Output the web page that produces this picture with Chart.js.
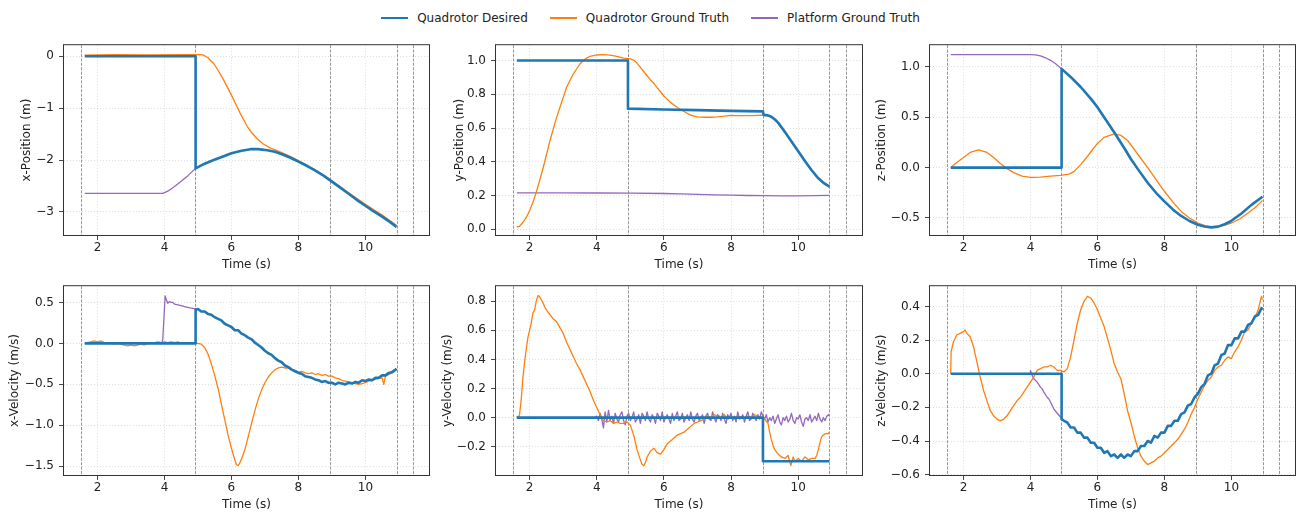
<!DOCTYPE html>
<html>
<head>
<meta charset="utf-8">
<script src="https://cdn.jsdelivr.net/npm/chart.js@4.4.1/dist/chart.umd.min.js"></script>
<style>
  body { margin: 0; background: #fff; width: 1301px; height: 518px; overflow: hidden; position: relative; font-family: 'DejaVu Sans', sans-serif; }
  canvas { position: absolute; }
  #legend { position: absolute; top: 11px; left: 0; width: 1301px; display: flex; justify-content: center; font-size: 12px; line-height: 14px; color: #222; }
  .item { display: flex; align-items: center; margin: 0 11px; }
  .swatch { width: 27px; margin-right: 9px; }
</style>
</head>
<body>
<div id="legend"></div>
<script>
// series names / colours
const seriesNames = ['Quadrotor Desired', 'Quadrotor Ground Truth', 'Platform Ground Truth'];
const seriesColors = ['#1f77b4', '#ff7f0e', '#9467bd'];

// phase boundaries (dashed vertical lines), seconds
const phaseTimes = [1.5, 4.92, 8.95, 10.93, 11.43];

// tick labels
const timeTicks = [2, 4, 6, 8, 10];
const xPosTicks = [-3, -2, -1, 0];
const yPosTicks = [0, 0.2, 0.4, 0.6, 0.8, 1.0];
const zPosTicks = [-0.5, 0, 0.5, 1.0];
const xVelTicks = [-1.5, -1.0, -0.5, 0, 0.5];
const yVelTicks = [-0.2, 0, 0.2, 0.4, 0.6, 0.8];
const zVelTicks = [-0.6, -0.4, -0.2, 0, 0.2, 0.4];

// ---- x position [t, value]
const xPosDesired = [[1.62,0],[4.93,0],[4.93,-2.16],[5.2,-2.07],[5.47,-2.0],[5.75,-1.93],[6.0,-1.87],[6.3,-1.82],[6.57,-1.79],[6.8,-1.79],[7.07,-1.81],[7.3,-1.84],[7.47,-1.88],[7.75,-1.95],[8.0,-2.03],[8.25,-2.11],[8.47,-2.19],[8.75,-2.3],[8.97,-2.4],[9.25,-2.53],[9.5,-2.65],[9.75,-2.77],[10.0,-2.88],[10.25,-2.99],[10.5,-3.09],[10.75,-3.2],[10.93,-3.29]];
const xPosTruth = [[1.62,0.02],[2.5,0.03],[3.5,0.025],[4.5,0.03],[5.0,0.03],[5.15,0.025],[5.3,-0.03],[5.47,-0.14],[5.6,-0.27],[5.77,-0.46],[6.0,-0.75],[6.15,-0.95],[6.27,-1.11],[6.47,-1.35],[6.6,-1.47],[6.77,-1.59],[6.95,-1.69],[7.17,-1.77],[7.47,-1.845],[7.75,-1.93],[8.0,-2.01],[8.5,-2.19],[9.0,-2.4],[9.5,-2.63],[10.0,-2.85],[10.5,-3.06],[10.93,-3.255]];
const xPosPlatform = [[1.62,-2.64],[3.95,-2.64],[4.1,-2.6],[4.3,-2.51],[4.5,-2.41],[4.7,-2.3],[4.93,-2.16]];

// ---- y position
const yPosDesired = [[1.62,1.0],[4.93,1.0],[4.93,0.715],[6.0,0.71],[7.0,0.706],[8.0,0.702],[8.95,0.699],[8.97,0.678],[9.1,0.675],[9.2,0.667],[9.3,0.652],[9.4,0.632],[9.6,0.578],[9.8,0.52],[10.0,0.462],[10.2,0.405],[10.4,0.35],[10.6,0.302],[10.75,0.275],[10.93,0.253]];
const yPosTruth = [[1.62,0.015],[1.7,0.017],[1.8,0.04],[1.9,0.07],[2.0,0.11],[2.1,0.16],[2.2,0.22],[2.3,0.29],[2.4,0.36],[2.5,0.44],[2.6,0.52],[2.7,0.59],[2.8,0.66],[2.9,0.72],[3.0,0.78],[3.1,0.84],[3.2,0.88],[3.3,0.92],[3.4,0.95],[3.5,0.98],[3.6,1.0],[3.7,1.015],[3.8,1.025],[4.0,1.033],[4.2,1.035],[4.4,1.032],[4.6,1.025],[4.8,1.015],[5.0,1.01],[5.1,1.003],[5.2,0.985],[5.3,0.96],[5.4,0.935],[5.5,0.91],[5.6,0.885],[5.7,0.865],[5.8,0.84],[5.9,0.815],[6.0,0.79],[6.1,0.77],[6.2,0.752],[6.3,0.737],[6.4,0.722],[6.5,0.71],[6.6,0.698],[6.7,0.687],[6.8,0.677],[6.9,0.67],[7.0,0.666],[7.2,0.664],[7.4,0.664],[7.6,0.666],[7.8,0.67],[8.0,0.675],[8.2,0.674],[8.4,0.673],[8.6,0.674],[8.8,0.675],[8.95,0.676],[9.1,0.673],[9.2,0.665],[9.4,0.631],[9.6,0.577],[9.8,0.52],[10.0,0.463],[10.2,0.406],[10.4,0.351],[10.6,0.303],[10.93,0.254]];
const yPosPlatform = [[1.62,0.216],[3.0,0.216],[4.0,0.215],[5.0,0.214],[6.0,0.212],[6.5,0.21],[7.0,0.207],[7.5,0.204],[8.0,0.202],[8.5,0.2],[9.0,0.199],[9.5,0.198],[10.0,0.198],[10.5,0.199],[10.93,0.201]];

// ---- z position
const zPosDesired = [[1.62,0],[4.93,0],[4.93,0.98],[5.2,0.9],[5.5,0.8],[5.8,0.685],[6.0,0.6],[6.2,0.5],[6.5,0.35],[6.8,0.195],[7.0,0.085],[7.25,-0.035],[7.5,-0.15],[7.75,-0.25],[8.0,-0.335],[8.25,-0.415],[8.5,-0.48],[8.75,-0.53],[9.0,-0.567],[9.2,-0.585],[9.4,-0.593],[9.6,-0.586],[9.8,-0.562],[10.0,-0.528],[10.3,-0.455],[10.6,-0.37],[10.93,-0.29]];
const zPosTruth = [[1.62,0.0],[1.8,0.05],[2.0,0.1],[2.2,0.15],[2.45,0.175],[2.7,0.15],[2.9,0.1],[3.1,0.04],[3.3,-0.01],[3.5,-0.05],[3.75,-0.085],[4.0,-0.098],[4.3,-0.095],[4.6,-0.085],[4.9,-0.077],[5.15,-0.065],[5.3,-0.04],[5.5,0.03],[5.65,0.09],[5.8,0.155],[6.0,0.24],[6.2,0.3],[6.5,0.335],[6.7,0.32],[6.9,0.27],[7.2,0.135],[7.5,0.0],[7.75,-0.12],[8.0,-0.235],[8.25,-0.34],[8.5,-0.435],[8.75,-0.5],[9.0,-0.55],[9.25,-0.58],[9.5,-0.59],[9.75,-0.575],[10.0,-0.55],[10.25,-0.51],[10.5,-0.45],[10.75,-0.385],[10.93,-0.325]];
const zPosPlatform = [[1.62,1.122],[3.5,1.122],[4.0,1.121],[4.15,1.118],[4.3,1.108],[4.45,1.09],[4.6,1.065],[4.75,1.03],[4.93,0.98]];

// ---- x velocity
const xVelDesired = [[1.62,0],[4.93,0],[4.93,0.41],[5.0,0.42],[5.1,0.39],[5.2,0.39],[5.3,0.36],[5.4,0.35],[5.5,0.32],[5.6,0.30],[5.7,0.28],[5.8,0.24],[5.9,0.22],[6.0,0.20],[6.1,0.16],[6.2,0.16],[6.3,0.12],[6.4,0.10],[6.5,0.07],[6.6,0.05],[6.7,0.01],[6.8,-0.02],[6.9,-0.05],[7.0,-0.09],[7.1,-0.12],[7.2,-0.14],[7.3,-0.18],[7.4,-0.21],[7.5,-0.23],[7.6,-0.27],[7.7,-0.29],[7.8,-0.32],[7.9,-0.34],[8.0,-0.36],[8.1,-0.37],[8.2,-0.40],[8.3,-0.41],[8.4,-0.42],[8.5,-0.44],[8.6,-0.45],[8.7,-0.47],[8.8,-0.46],[8.9,-0.48],[9.0,-0.48],[9.1,-0.50],[9.2,-0.48],[9.3,-0.49],[9.4,-0.50],[9.5,-0.48],[9.6,-0.49],[9.7,-0.47],[9.8,-0.48],[9.9,-0.45],[10.0,-0.46],[10.1,-0.44],[10.2,-0.45],[10.3,-0.42],[10.4,-0.42],[10.5,-0.39],[10.6,-0.39],[10.7,-0.36],[10.8,-0.35],[10.9,-0.32],[10.93,-0.31]];
const xVelTruth = [[1.62,0.0],[1.7,0.01],[1.8,0.02],[1.9,0.03],[2.0,0.02],[2.1,0.03],[2.2,0.01],[2.3,0.0],[2.4,0.0],[2.5,-0.01],[2.6,0.0],[2.7,-0.01],[2.8,-0.02],[2.9,-0.03],[3.0,-0.02],[3.1,-0.03],[3.2,-0.02],[3.3,-0.01],[3.4,-0.02],[3.5,0.0],[3.6,0.0],[3.7,0.01],[3.8,0.02],[3.9,0.01],[4.0,0.02],[4.1,0.01],[4.2,0.02],[4.3,0.01],[4.4,0.02],[4.5,0.0],[4.6,0.01],[4.7,0.0],[4.8,0.01],[4.9,0.0],[5.0,0.0],[5.1,-0.01],[5.2,-0.05],[5.3,-0.13],[5.4,-0.25],[5.5,-0.39],[5.6,-0.55],[5.7,-0.74],[5.8,-0.93],[5.9,-1.12],[6.0,-1.28],[6.1,-1.42],[6.15,-1.48],[6.2,-1.49],[6.25,-1.46],[6.3,-1.41],[6.4,-1.30],[6.5,-1.14],[6.6,-0.98],[6.7,-0.82],[6.8,-0.68],[6.9,-0.57],[7.0,-0.48],[7.1,-0.41],[7.2,-0.36],[7.3,-0.32],[7.4,-0.30],[7.5,-0.29],[7.6,-0.30],[7.7,-0.30],[7.8,-0.32],[7.9,-0.33],[8.0,-0.35],[8.1,-0.34],[8.2,-0.36],[8.3,-0.37],[8.4,-0.36],[8.5,-0.38],[8.6,-0.37],[8.7,-0.39],[8.8,-0.38],[8.9,-0.40],[9.0,-0.40],[9.1,-0.42],[9.2,-0.43],[9.3,-0.45],[9.4,-0.46],[9.5,-0.47],[9.6,-0.48],[9.7,-0.49],[9.8,-0.50],[9.9,-0.49],[10.0,-0.48],[10.1,-0.46],[10.2,-0.45],[10.3,-0.44],[10.4,-0.43],[10.5,-0.42],[10.55,-0.50],[10.6,-0.40],[10.7,-0.38],[10.8,-0.36],[10.9,-0.33],[10.93,-0.32]];
const xVelPlatform = [[1.62,0],[3.92,0],[3.95,0.05],[4.02,0.58],[4.06,0.53],[4.1,0.49],[4.15,0.51],[4.2,0.5],[4.25,0.5],[4.3,0.48],[4.4,0.47],[4.5,0.46],[4.6,0.45],[4.7,0.44],[4.8,0.43],[4.93,0.42]];

// ---- y velocity
const yVelDesired = [[1.62,0],[8.95,0],[8.95,-0.3],[10.93,-0.3]];
const yVelTruth = [[1.62,0.01],[1.65,0.0],[1.7,0.02],[1.75,0.12],[1.8,0.27],[1.85,0.38],[1.9,0.47],[1.95,0.55],[2.0,0.6],[2.05,0.65],[2.1,0.72],[2.15,0.74],[2.2,0.8],[2.25,0.84],[2.3,0.83],[2.35,0.81],[2.4,0.79],[2.45,0.76],[2.5,0.74],[2.6,0.71],[2.7,0.68],[2.8,0.66],[2.9,0.62],[3.0,0.58],[3.1,0.52],[3.2,0.47],[3.3,0.42],[3.4,0.37],[3.5,0.33],[3.6,0.28],[3.7,0.23],[3.8,0.18],[3.9,0.12],[4.0,0.07],[4.1,0.02],[4.2,-0.02],[4.3,-0.03],[4.4,-0.02],[4.5,-0.04],[4.6,-0.03],[4.7,-0.04],[4.8,-0.04],[4.9,-0.03],[5.0,-0.05],[5.1,-0.12],[5.2,-0.22],[5.3,-0.29],[5.35,-0.32],[5.4,-0.33],[5.45,-0.31],[5.5,-0.27],[5.6,-0.23],[5.7,-0.21],[5.8,-0.24],[5.9,-0.25],[6.0,-0.22],[6.1,-0.18],[6.2,-0.16],[6.3,-0.14],[6.4,-0.12],[6.5,-0.11],[6.6,-0.1],[6.7,-0.08],[6.8,-0.06],[6.9,-0.04],[7.0,-0.03],[7.1,-0.02],[7.2,-0.01],[7.3,0.01],[7.4,0.0],[7.5,0.02],[7.6,0.01],[7.7,0.0],[7.8,0.02],[7.9,-0.01],[8.0,0.0],[8.1,-0.01],[8.2,0.01],[8.3,0.0],[8.4,-0.01],[8.5,0.01],[8.6,0.0],[8.7,0.02],[8.8,0.01],[8.9,0.0],[9.0,-0.01],[9.1,-0.04],[9.15,-0.1],[9.2,-0.15],[9.25,-0.19],[9.3,-0.22],[9.4,-0.25],[9.5,-0.27],[9.6,-0.28],[9.7,-0.26],[9.78,-0.33],[9.85,-0.27],[9.9,-0.3],[10.0,-0.28],[10.1,-0.3],[10.2,-0.27],[10.3,-0.29],[10.4,-0.28],[10.5,-0.28],[10.55,-0.26],[10.6,-0.22],[10.65,-0.17],[10.7,-0.13],[10.8,-0.11],[10.9,-0.11],[10.93,-0.1]];
const yVelPlatform = [[1.62,0],[3.95,0],[4.0,0.01],[4.05,-0.02],[4.1,0.03],[4.15,-0.01],[4.2,-0.07],[4.25,0.04],[4.3,-0.03],[4.35,0.05],[4.4,-0.02],[4.45,0.01],[4.5,-0.04],[4.55,0.03],[4.6,-0.01],[4.65,-0.03],[4.7,0.02],[4.75,0.04],[4.8,-0.02],[4.85,-0.05],[4.9,0.01],[4.95,0.03],[5.0,-0.02],[5.05,0.0],[5.1,0.04],[5.15,-0.03],[5.2,-0.01],[5.25,0.02],[5.3,-0.04],[5.35,0.03],[5.4,0.01],[5.45,-0.02],[5.5,0.04],[5.55,-0.01],[5.6,-0.03],[5.65,0.02],[5.7,0.0],[5.75,-0.04],[5.8,0.03],[5.85,0.01],[5.9,-0.02],[5.95,0.04],[6.0,-0.03],[6.05,0.0],[6.1,0.02],[6.15,-0.01],[6.2,-0.04],[6.25,0.03],[6.3,-0.02],[6.35,0.01],[6.4,0.04],[6.45,-0.02],[6.5,-0.01],[6.55,0.03],[6.6,-0.03],[6.65,0.0],[6.7,0.02],[6.75,-0.02],[6.8,0.04],[6.85,-0.01],[6.9,-0.03],[6.95,0.01],[7.0,0.03],[7.05,-0.02],[7.1,0.0],[7.15,0.02],[7.2,-0.04],[7.25,0.01],[7.3,0.03],[7.35,-0.01],[7.4,-0.02],[7.45,0.04],[7.5,0.0],[7.55,-0.03],[7.6,0.02],[7.65,0.01],[7.7,-0.02],[7.75,0.03],[7.8,-0.01],[7.85,-0.04],[7.9,0.02],[7.95,0.0],[8.0,0.03],[8.05,-0.02],[8.1,0.01],[8.15,-0.03],[8.2,0.04],[8.25,-0.01],[8.3,0.0],[8.35,0.02],[8.4,-0.03],[8.45,0.01],[8.5,0.04],[8.55,-0.02],[8.6,-0.01],[8.65,0.03],[8.7,0.0],[8.75,-0.02],[8.8,0.02],[8.85,-0.01],[8.9,0.04],[8.95,0.01],[9.0,-0.01],[9.05,0.02],[9.1,-0.03],[9.15,0.0],[9.2,-0.02],[9.25,0.01],[9.3,-0.04],[9.35,-0.01],[9.4,0.02],[9.45,-0.03],[9.5,-0.05],[9.55,0.0],[9.6,-0.02],[9.65,0.01],[9.7,-0.03],[9.75,-0.01],[9.8,0.03],[9.85,-0.02],[9.9,-0.04],[9.95,0.0],[10.0,-0.01],[10.05,0.02],[10.1,-0.03],[10.15,-0.06],[10.2,-0.01],[10.25,0.0],[10.3,-0.02],[10.35,0.02],[10.4,-0.03],[10.45,-0.01],[10.5,0.01],[10.55,-0.02],[10.6,0.03],[10.65,-0.01],[10.7,-0.03],[10.75,0.0],[10.8,-0.02],[10.85,0.01],[10.9,0.02],[10.93,0.01]];

// ---- z velocity
const zVelDesired = [[1.62,0],[4.93,0],[4.93,-0.27],[5.0,-0.28],[5.1,-0.29],[5.2,-0.32],[5.3,-0.32],[5.4,-0.35],[5.5,-0.35],[5.6,-0.38],[5.7,-0.38],[5.8,-0.41],[5.9,-0.41],[6.0,-0.44],[6.1,-0.44],[6.2,-0.47],[6.3,-0.46],[6.4,-0.49],[6.5,-0.48],[6.6,-0.50],[6.7,-0.48],[6.8,-0.50],[6.9,-0.48],[7.0,-0.49],[7.1,-0.46],[7.2,-0.46],[7.3,-0.43],[7.4,-0.43],[7.5,-0.40],[7.6,-0.41],[7.7,-0.37],[7.8,-0.38],[7.9,-0.35],[8.0,-0.35],[8.1,-0.31],[8.2,-0.31],[8.3,-0.28],[8.4,-0.28],[8.5,-0.24],[8.6,-0.23],[8.7,-0.19],[8.8,-0.18],[8.9,-0.14],[9.0,-0.12],[9.1,-0.08],[9.2,-0.06],[9.3,-0.01],[9.4,0.0],[9.5,0.05],[9.6,0.06],[9.7,0.11],[9.8,0.12],[9.9,0.17],[10.0,0.17],[10.1,0.21],[10.2,0.21],[10.3,0.25],[10.4,0.25],[10.5,0.29],[10.6,0.3],[10.7,0.34],[10.8,0.35],[10.9,0.39],[10.93,0.38]];
const zVelTruth = [[1.62,0.0],[1.63,0.13],[1.7,0.19],[1.8,0.23],[1.9,0.24],[2.0,0.25],[2.05,0.26],[2.1,0.24],[2.2,0.22],[2.3,0.16],[2.4,0.07],[2.5,-0.02],[2.6,-0.1],[2.7,-0.16],[2.8,-0.22],[2.9,-0.25],[3.0,-0.27],[3.1,-0.28],[3.2,-0.27],[3.3,-0.25],[3.4,-0.22],[3.5,-0.19],[3.6,-0.16],[3.7,-0.14],[3.8,-0.11],[3.9,-0.08],[4.0,-0.05],[4.1,-0.02],[4.2,0.02],[4.3,0.03],[4.4,0.04],[4.5,0.04],[4.6,0.05],[4.7,0.04],[4.8,0.02],[4.9,0.02],[5.0,0.01],[5.1,0.03],[5.2,0.1],[5.3,0.2],[5.4,0.3],[5.5,0.38],[5.6,0.43],[5.7,0.46],[5.8,0.45],[5.9,0.42],[6.0,0.38],[6.1,0.33],[6.2,0.28],[6.3,0.21],[6.4,0.14],[6.5,0.06],[6.6,0.01],[6.7,-0.03],[6.8,-0.12],[6.9,-0.22],[7.0,-0.29],[7.1,-0.37],[7.2,-0.44],[7.3,-0.49],[7.4,-0.52],[7.5,-0.54],[7.6,-0.53],[7.7,-0.52],[7.8,-0.5],[7.9,-0.49],[8.0,-0.47],[8.1,-0.45],[8.2,-0.43],[8.3,-0.41],[8.4,-0.39],[8.5,-0.36],[8.6,-0.33],[8.7,-0.29],[8.8,-0.24],[8.9,-0.2],[9.0,-0.15],[9.1,-0.11],[9.2,-0.07],[9.3,-0.04],[9.4,-0.02],[9.5,0.02],[9.6,0.04],[9.7,0.05],[9.8,0.08],[9.9,0.1],[10.0,0.09],[10.1,0.13],[10.2,0.16],[10.3,0.2],[10.4,0.25],[10.5,0.26],[10.6,0.3],[10.7,0.33],[10.8,0.38],[10.85,0.42],[10.9,0.46],[10.93,0.44]];
const zVelPlatform = [[1.62,0],[4.0,0],[4.0,0.02],[4.05,-0.01],[4.1,-0.03],[4.2,-0.05],[4.3,-0.08],[4.35,-0.09],[4.4,-0.11],[4.5,-0.14],[4.55,-0.15],[4.6,-0.17],[4.7,-0.21],[4.8,-0.235],[4.93,-0.265]];

// subplot layout: frame = [left, top, width, height] of plot box, titleX = centre of y title
const panels = [
  { yTitle: 'x-Position (m)', ticks: xPosTicks, min: -3.443, max: 0.212, dec: 0, series: [xPosDesired, xPosTruth, xPosPlatform], frame: [64, 45, 365, 190], titleX: 27 },
  { yTitle: 'y-Position (m)', ticks: yPosTicks, min: -0.034, max: 1.091, dec: 1, series: [yPosDesired, yPosTruth, yPosPlatform], frame: [496, 45, 366, 190], titleX: 460 },
  { yTitle: 'z-Position (m)', ticks: zPosTicks, min: -0.669, max: 1.215, dec: 1, series: [zPosDesired, zPosTruth, zPosPlatform], frame: [930, 45, 365, 190], titleX: 882 },
  { yTitle: 'x-Velocity (m/s)', ticks: xVelTicks, min: -1.606, max: 0.698, dec: 1, series: [xVelDesired, xVelTruth, xVelPlatform], frame: [64, 286, 365, 189], titleX: 15 },
  { yTitle: 'y-Velocity (m/s)', ticks: yVelTicks, min: -0.394, max: 0.903, dec: 1, series: [yVelDesired, yVelTruth, yVelPlatform], frame: [496, 286, 366, 189], titleX: 448 },
  { yTitle: 'z-Velocity (m/s)', ticks: zVelTicks, min: -0.602, max: 0.52, dec: 1, series: [zVelDesired, zVelTruth, zVelPlatform], frame: [930, 286, 365, 189], titleX: 882 }
];

const lineWidths = [2.6, 1.3, 1.3];
const drawOrder = [0, 1, 2];
const fontSize = 12;

Chart.defaults.font.family = "'DejaVu Sans', sans-serif";
Chart.defaults.font.size = fontSize;
Chart.defaults.color = '#222';

const fmt = (v, dec) => (v < 0 ? '\u2212' : '') + Math.abs(v).toFixed(dec);

// dashed phase lines under the data, box frame on top
const guides = {
  id: 'guides',
  beforeDatasetsDraw(chart) {
    const { ctx, chartArea: a, scales: { x } } = chart;
    ctx.save();
    ctx.strokeStyle = 'rgba(110,110,110,0.8)';
    ctx.lineWidth = 0.9;
    ctx.setLineDash([3, 1.4]);
    phaseTimes.forEach(t => {
      const px = Math.round(x.getPixelForValue(t)) + 0.5;
      ctx.beginPath();
      ctx.moveTo(px, a.top);
      ctx.lineTo(px, a.bottom);
      ctx.stroke();
    });
    ctx.restore();
  },
  afterDatasetsDraw(chart) {
    const { ctx, chartArea: a } = chart;
    ctx.save();
    ctx.strokeStyle = '#333';
    ctx.lineWidth = 1;
    ctx.strokeRect(a.left - 0.5, a.top - 0.5, a.right - a.left + 1, a.bottom - a.top + 1);
    ctx.restore();
  }
};

function makeChart(p) {
  const [fl, ft, fw, fh] = p.frame;
  const half = fontSize * 1.2 / 2;
  const padT = 12, padR = 10, xH = Math.round(30 + half);
  const cl = Math.round(p.titleX - half);
  const yW = fl - cl;
  const canvas = document.createElement('canvas');
  canvas.width = yW + fw + padR;
  canvas.height = padT + fh + xH;
  canvas.style.left = cl + 'px';
  canvas.style.top = (ft - padT) + 'px';
  canvas.style.width = canvas.width + 'px';
  canvas.style.height = canvas.height + 'px';
  document.body.appendChild(canvas);

  const gridOpts = { color: 'rgba(0,0,0,0.16)', lineWidth: 0.8, tickColor: '#333', tickLength: 5, tickWidth: 0.9, tickBorderDash: [] };

  return new Chart(canvas.getContext('2d'), {
    type: 'line',
    data: {
      datasets: p.series.map((s, i) => ({
        label: seriesNames[i],
        data: s.map(([x, y]) => ({ x, y })),
        borderColor: seriesColors[i],
        backgroundColor: seriesColors[i],
        borderWidth: lineWidths[i],
        pointRadius: 0,
        tension: 0,
        order: drawOrder[i],
        borderJoinStyle: 'round'
      }))
    },
    options: {
      responsive: false,
      animation: false,
      events: [],
      layout: { padding: { top: padT, right: padR, left: 0, bottom: 0 } },
      plugins: { legend: { display: false }, tooltip: { enabled: false } },
      scales: {
        x: {
          type: 'linear', min: 1.0, max: 11.9,
          afterBuildTicks: s => { s.ticks = timeTicks.map(v => ({ value: v })); },
          afterFit: s => { s.height = xH; },
          grid: gridOpts,
          border: { display: false, dash: [1, 2] },
          ticks: { padding: 1, maxRotation: 0, autoSkip: false, color: '#222', callback: v => fmt(v, 0) },
          title: { display: true, text: 'Time (s)', color: '#222', padding: 0 }
        },
        y: {
          type: 'linear', min: p.min, max: p.max,
          afterBuildTicks: s => { s.ticks = p.ticks.map(v => ({ value: v })); },
          afterFit: s => { s.width = yW; },
          grid: gridOpts,
          border: { display: false, dash: [1, 2] },
          ticks: { padding: 5, autoSkip: false, color: '#222', callback: v => fmt(v, p.dec) },
          title: { display: true, text: p.yTitle, color: '#222', padding: 0 }
        }
      }
    },
    plugins: [guides]
  });
}

panels.forEach(makeChart);

// shared legend
const legend = document.getElementById('legend');
seriesNames.forEach((name, i) => {
  const item = document.createElement('div');
  item.className = 'item';
  const sw = document.createElement('div');
  sw.className = 'swatch';
  sw.style.height = lineWidths[i] + 'px';
  sw.style.background = seriesColors[i];
  const txt = document.createElement('span');
  txt.textContent = name;
  item.appendChild(sw);
  item.appendChild(txt);
  legend.appendChild(item);
});
</script>
</body>
</html>
